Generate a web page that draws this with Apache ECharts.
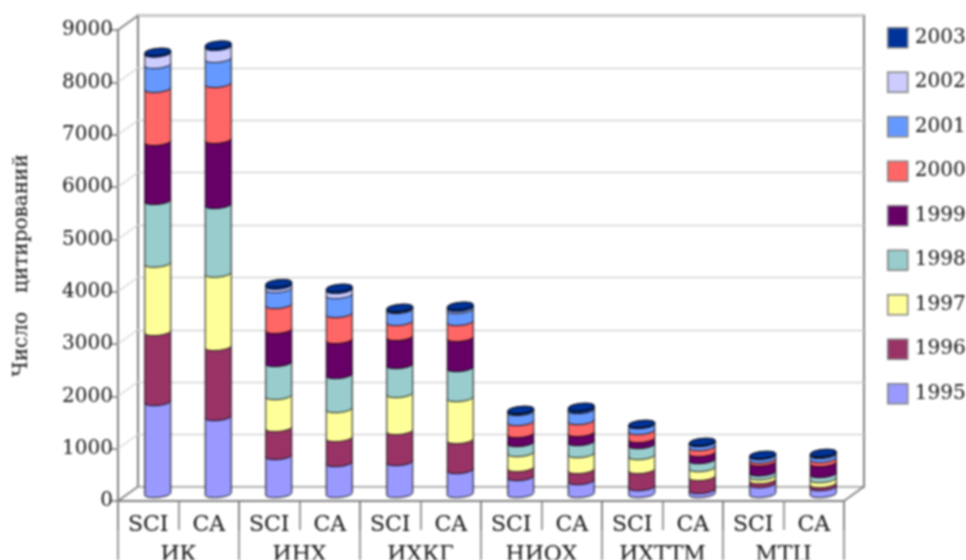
<!DOCTYPE html>
<html><head><meta charset="utf-8">
<style>html,body{margin:0;padding:0;background:#fff;overflow:hidden}#c{width:966px;height:560px;filter:blur(0.8px)}</style>
<script src="https://cdn.jsdelivr.net/npm/echarts@6/dist/echarts.min.js"></script>
</head><body><div id="c"></div>
<script>
const groups = ['ИК','ИНХ','ИХКГ','НИОХ','ИХТТМ','МТЦ'];
const sources = ['SCI','CA','SCI','CA','SCI','CA','SCI','CA','SCI','CA','SCI','CA'];
const years = ['1995','1996','1997','1998','1999','2000','2001','2002','2003'];
const colors = ['#9999FF','#993366','#FFFF99','#99CCCC','#660066','#FF6666','#6699FF','#CCCCFF','#003399'];
const yTicks = [0,1000,2000,3000,4000,5000,6000,7000,8000,9000];
const y1995 = [1762,1475,728,594,613,460,326,249,134,77,190,134];
const y1996 = [1341,1341,536,479,594,574,172,211,326,249,75,58];
const y1997 = [1309,1404,613,555,709,805,287,306,268,172,75,95];
const y1998 = [1201,1316,633,652,555,575,192,230,211,153,75,96];
const y1999 = [1130,1246,632,670,537,575,172,173,115,134,190,211];
const y2000 = [1015,1072,479,498,287,306,230,229,153,115,55,76];
const y2001 = [460,479,306,364,230,230,192,211,115,77,70,77];
const y2002 = [217,230,60,96,19,38,19,19,10,10,10,19];
const y2003 = [30,40,47,38,19,39,19,39,9,9,7,19];
const table = [y1995,y1996,y1997,y1998,y1999,y2000,y2001,y2002,y2003];

const FONT = 'DejaVu Serif';
const INK = '#111';
const FRAME = '#808080';
const DX = 20, DY = -14.5;
const RX = 13, RY = 3.5, TILT = 1.2;

function segment(params, api, color, isTop) {
  const i = api.value(0);
  const b = api.coord([i, api.value(1)]);
  const t = api.coord([i, api.value(2)]);
  const cx = b[0];
  const pts = [];
  const N = 16;
  for (let k = 0; k <= N; k++) {
    const a = Math.PI * k / N, c = Math.cos(a);
    pts.push([cx - RX * c, b[1] + RY * Math.sin(a) + TILT * c]);
  }
  for (let k = 0; k <= N; k++) {
    const a = Math.PI * k / N, c = Math.cos(a);
    pts.push([cx + RX * c, t[1] - RY * Math.sin(a) - TILT * c]);
  }
  const style = {fill: color, stroke: '#000', lineWidth: 0.9};
  const children = [{type: 'polygon', shape: {points: pts}, style}];
  if (isTop) {
    const cap = [];
    for (let k = 0; k <= 2 * N; k++) {
      const a = Math.PI * k / N, c = Math.cos(a);
      cap.push([cx - RX * c, t[1] + RY * Math.sin(a) + TILT * c]);
    }
    children.push({type: 'polygon', shape: {points: cap}, style});
  }
  return {type: 'group', children};
}

const barSeries = years.map((y, s) => ({
  name: y,
  type: 'custom',
  xAxisIndex: 3, yAxisIndex: 2,
  z: 5 + s,
  itemStyle: {color: colors[s]},
  silent: true,
  data: table[s].map((v, i) => {
    let start = 0;
    for (let r = 0; r < s; r++) start += table[r][i];
    return [i, start, start + v];
  }),
  encode: {x: 0, y: [1, 2]},
  renderItem: (p, api) => segment(p, api, colors[s], s === years.length - 1),
}));

const wallSeries = {
  type: 'custom',
  xAxisIndex: 0, yAxisIndex: 0,
  silent: true,
  z: 3,
  data: yTicks.map(v => [0, v]),
  encode: {x: 0, y: 1},
  renderItem: (p, api) => {
    const v = api.value(1);
    const y = api.coord([0, v])[1];
    const x = p.coordSys.x;
    const strong = v === 0 || v === 9000;
    const col = strong ? FRAME : '#d4d4d4';
    const lw = strong ? 1.6 : 1.2;
    const kids = [{type: 'line', shape: {x1: x, y1: y, x2: x + DX, y2: y + DY}, style: {stroke: col, lineWidth: lw}}];
    if (v === 0) {
      const xr = x + p.coordSys.width;
      kids.push({type: 'line', shape: {x1: xr, y1: y, x2: xr + DX, y2: y + DY}, style: {stroke: col, lineWidth: lw}});
    }
    return {type: 'group', children: kids};
  },
};

const chart = echarts.init(document.getElementById('c'), null, {renderer: 'canvas'});
chart.setOption({
  animation: false,
  backgroundColor: '#fff',
  textStyle: {fontFamily: FONT},
  legend: {
    data: years.slice().reverse(),
    orient: 'vertical',
    left: 882, top: 22,
    itemWidth: 20, itemHeight: 20, itemGap: 23,
    icon: 'rect',
    itemStyle: {borderColor: FRAME, borderWidth: 1.5},
    selectedMode: false,
    textStyle: {fontFamily: FONT, fontSize: 20, color: INK, padding: [2, 0, 0, 2]},
  },
  grid: [
    {left: 118, width: 726, top: 30, height: 471, outerBoundsMode: 'none'},
    {left: 138, width: 726, top: 15.5, height: 471.5, outerBoundsMode: 'none', show: true, borderColor: FRAME, borderWidth: 2, backgroundColor: '#fff'},
    {left: 127.5, width: 726, top: 24, height: 470, outerBoundsMode: 'none'},
  ],
  xAxis: [
    {gridIndex: 0, type: 'category', data: sources, position: 'bottom',
      axisLine: {show: true, lineStyle: {color: FRAME, width: 2}},
      axisTick: {show: true, length: 29, lineStyle: {color: FRAME, width: 1.6}},
      axisLabel: {interval: 0, fontFamily: FONT, fontSize: 22, color: INK, margin: 13, hideOverlap: false},
    },
    {gridIndex: 0, type: 'category', data: groups, position: 'bottom',
      axisLine: {show: false},
      axisTick: {show: true, length: 60, lineStyle: {color: FRAME, width: 1.6}},
      axisLabel: {interval: 0, fontFamily: FONT, fontSize: 22, color: INK, margin: 43, hideOverlap: false},
    },
    {gridIndex: 1, type: 'category', data: sources, show: false},
    {gridIndex: 2, type: 'category', data: sources, show: false},
  ],
  yAxis: [
    {gridIndex: 0, type: 'value', min: 0, max: 9000, interval: 1000,
      name: 'Число   цитирований', nameLocation: 'middle', nameGap: 86,
      nameTextStyle: {fontFamily: FONT, fontSize: 20, color: INK},
      axisLine: {show: true, lineStyle: {color: FRAME, width: 2}},
      axisTick: {show: true, length: 8, lineStyle: {color: FRAME, width: 1.6}},
      axisLabel: {fontFamily: FONT, fontSize: 20, color: INK, margin: 5, padding: [5, 0, 0, 0], formatter: v => String(v)},
      splitLine: {show: false},
    },
    {gridIndex: 1, type: 'value', min: 0, max: 9000, interval: 1000,
      axisLine: {show: false}, axisTick: {show: false}, axisLabel: {show: false},
      splitLine: {show: true, lineStyle: {color: '#d4d4d4', width: 1.4}},
    },
    {gridIndex: 2, type: 'value', min: 0, max: 9000, interval: 1000, show: false, splitLine: {show: false}},
  ],
  series: [wallSeries].concat(barSeries),
});
</script></body></html>
